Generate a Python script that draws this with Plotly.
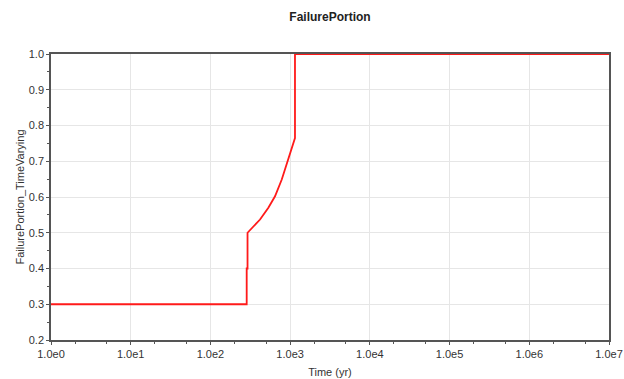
import plotly.graph_objects as go

# Failure portion over time (step changes with a rising segment)
time_yr = [1, 285, 285, 292, 292, 330, 419, 533, 646, 785, 949, 1119, 1150, 1150, 1e7]
failure_portion = [0.3, 0.3, 0.4, 0.4, 0.5, 0.5135, 0.537, 0.570, 0.602, 0.649, 0.705, 0.757, 0.765, 1.0, 1.0]

x_tick_vals = [1, 1e1, 1e2, 1e3, 1e4, 1e5, 1e6, 1e7]
x_tick_text = ["1.0e0", "1.0e1", "1.0e2", "1.0e3", "1.0e4", "1.0e5", "1.0e6", "1.0e7"]
y_tick_vals = [0.2, 0.3, 0.4, 0.5, 0.6, 0.7, 0.8, 0.9, 1.0]

font_family = "Liberation Sans, Arial, sans-serif"

fig = go.Figure()
fig.add_trace(go.Scatter(
    x=time_yr, y=failure_portion, mode="lines",
    line=dict(color="#ff1a1a", width=1.8),
    showlegend=False,
))

fig.update_layout(
    width=624, height=379,
    margin=dict(l=51, r=15, t=54, b=39),
    paper_bgcolor="white", plot_bgcolor="white",
    font=dict(family=font_family, size=11, color="#333333"),
    title=dict(text="<b>FailurePortion</b>", x=(51 + 609) / 2 / 624, xanchor="center",
               y=1 - 17 / 379, yanchor="middle",
               font=dict(family=font_family, size=12, color="#222222")),
)

fig.update_xaxes(
    type="log", range=[0, 7], automargin=False,
    tickvals=x_tick_vals, ticktext=x_tick_text,
    showgrid=True, gridcolor="#e6e6e6", gridwidth=1,
    showline=True, linecolor="#555555", linewidth=1.5, mirror=True,
    ticks="outside", ticklen=3, tickcolor="#555555",
    minor=dict(ticks="outside", ticklen=2, tickcolor="#555555", showgrid=False),
    tickfont=dict(size=11, color="#333333"),
    title=dict(text="Time (yr)", font=dict(size=11, color="#333333"), standoff=9),
    zeroline=False,
)

fig.update_yaxes(
    range=[0.2, 1.0], automargin=False,
    tickvals=y_tick_vals, tickformat=".1f",
    showgrid=True, gridcolor="#e6e6e6", gridwidth=1,
    showline=True, linecolor="#555555", linewidth=1.5, mirror=True,
    ticks="outside", ticklen=3, tickcolor="#555555",
    minor=dict(dtick=0.05, ticks="outside", ticklen=2, tickcolor="#555555", showgrid=False),
    tickfont=dict(size=11, color="#333333"),
    title=dict(text="FailurePortion_TimeVarying", font=dict(size=11, color="#333333"), standoff=2),
    zeroline=False,
)

fig.write_html("out.html")
